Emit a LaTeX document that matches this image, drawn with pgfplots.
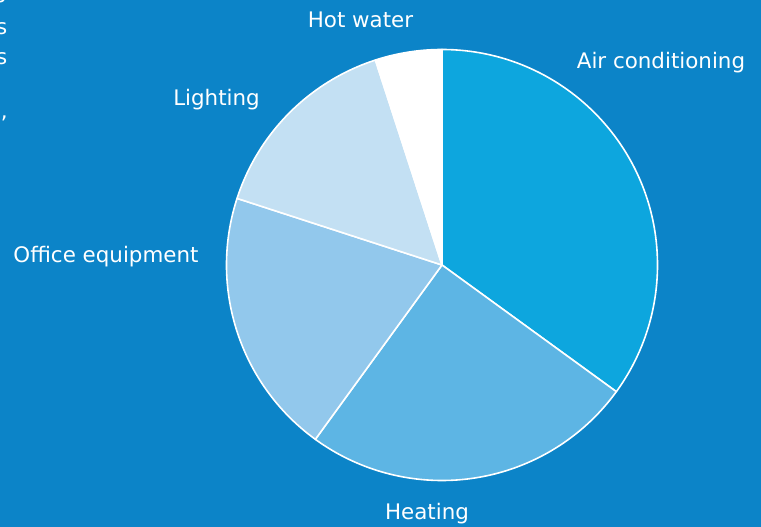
\documentclass[border=0pt]{standalone}
\usepackage{pgfplots}
\pgfplotsset{compat=1.18}
\usepackage{pgfplotstable}
\usepackage{fontspec}
\setmainfont{DejaVu Sans}
\definecolor{bg}{HTML}{0C84C8}
\definecolor{cA}{HTML}{0DA6DE}
\definecolor{cB}{HTML}{5DB5E4}
\definecolor{cC}{HTML}{92C8EC}
\definecolor{cD}{HTML}{C3E0F3}
\definecolor{cE}{HTML}{FFFFFF}
\pgfplotstableread{
label value
{Air conditioning} 35
Heating 25
{Office equipment} 20
Lighting 15
{Hot water} 5
}\piedata
\begin{document}
\begin{tikzpicture}
\useasboundingbox (0,0) rectangle (761bp,527bp);
\clip (0,0) rectangle (761bp,527bp);
\fill[bg] (0,0) rectangle (761bp,527bp);
% cumulative angles from the table
\pgfplotstablegetelem{0}{value}\of\piedata \pgfmathsetmacro{\eA}{90-3.6*\pgfplotsretval}
\pgfplotstablegetelem{1}{value}\of\piedata \pgfmathsetmacro{\eB}{\eA-3.6*\pgfplotsretval}
\pgfplotstablegetelem{2}{value}\of\piedata \pgfmathsetmacro{\eC}{\eB-3.6*\pgfplotsretval}
\pgfplotstablegetelem{3}{value}\of\piedata \pgfmathsetmacro{\eD}{\eC-3.6*\pgfplotsretval}
\pgfplotstablegetelem{4}{value}\of\piedata \pgfmathsetmacro{\eE}{\eD-3.6*\pgfplotsretval}
\begin{axis}[
  at={(0,0)}, anchor=south west,
  width=761bp, height=527bp, scale only axis,
  xmin=0, xmax=761, ymin=0, ymax=527,
  hide axis, clip=false,
]
\def\R{215.5bp}
\filldraw[fill=cA, draw=white, line width=1.6bp, line join=round] (axis cs:442,262) -- ++(90:\R) arc[start angle=90, end angle=\eA, radius=\R] -- cycle;
\filldraw[fill=cB, draw=white, line width=1.6bp, line join=round] (axis cs:442,262) -- ++(\eA:\R) arc[start angle=\eA, end angle=\eB, radius=\R] -- cycle;
\filldraw[fill=cC, draw=white, line width=1.6bp, line join=round] (axis cs:442,262) -- ++(\eB:\R) arc[start angle=\eB, end angle=\eC, radius=\R] -- cycle;
\filldraw[fill=cD, draw=white, line width=1.6bp, line join=round] (axis cs:442,262) -- ++(\eC:\R) arc[start angle=\eC, end angle=\eD, radius=\R] -- cycle;
\filldraw[fill=cE, draw=white, line width=1.6bp, line join=round] (axis cs:442,262) -- ++(\eD:\R) arc[start angle=\eD, end angle=\eE, radius=\R] -- cycle;
\begin{scope}[every node/.style={text=white, inner sep=0pt, font=\fontsize{21.4bp}{25bp}\selectfont}]
\node[anchor=base] at (axis cs:360.5,499.5) {Hot water};
\node[anchor=base] at (axis cs:661,458) {Air conditioning};
\node[anchor=base] at (axis cs:216.5,421) {Lighting};
\node[anchor=base] at (axis cs:106,264) {Office equipment};
\node[anchor=base] at (axis cs:427,8) {Heating};
\node[anchor=base east] at (axis cs:7.5,528) {g};
\node[anchor=base east] at (axis cs:7.5,492) {s};
\node[anchor=base east] at (axis cs:7.5,462) {s};
\node[anchor=base east] at (axis cs:8,408) {s,};
\end{scope}
\end{axis}
\end{tikzpicture}
\end{document}
